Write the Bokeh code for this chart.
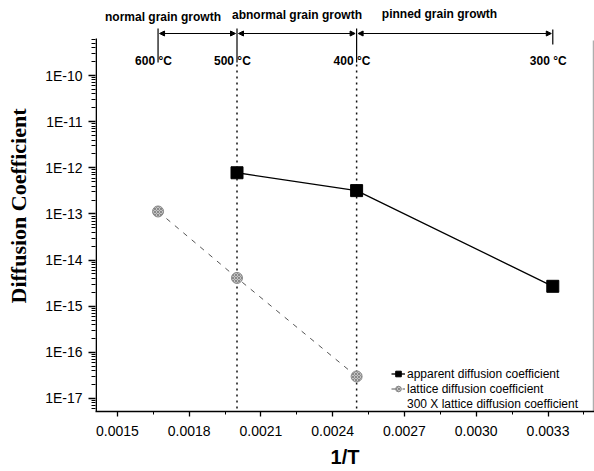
from bokeh.plotting import figure
from bokeh.models import (Range1d, FixedTicker, Legend, LegendItem, Arrow, NormalHead,
                          CustomJSTickFormatter)
from bokeh.core.properties import value
from bokeh.embed import file_html
from bokeh.resources import INLINE

# ---- data ----
app_x = [0.0020, 0.0025, 0.00332]
app_y = [7.8e-13, 3.2e-13, 2.7e-15]
lat_x = [0.00167, 0.0020, 0.0025]
lat_y = [1.13e-13, 4.1e-15, 3.0e-17]
temp_x = [0.00167, 0.0020, 0.0025, 0.00332]
temp_labels = ["600 °C", "500 °C", "400 °C", "300 °C"]
regions = ["normal grain growth", "abnormal grain growth", "pinned grain growth"]
x_ticks = [0.0015, 0.0018, 0.0021, 0.0024, 0.0027, 0.0030, 0.0033]
y_ticks = [1e-17, 1e-16, 1e-15, 1e-14, 1e-13, 1e-12, 1e-11, 1e-10]

# ---- helpers for header placement (pixel row -> log value) ----
def py(ypx):
    return 10 ** (-10 + (75 - ypx) / 46.14)

PX = 4.18e-6          # data units per pixel along x
X0 = 0.002 - 141.5 * PX
X1 = 0.002 + 357.5 * PX
Y0 = py(411)
Y1 = py(0)

def pxx(xpx):
    return 0.002 + (xpx - 236.5) * PX

p = figure(width=594, height=471, y_axis_type="log",
           x_range=Range1d(X0, X1), y_range=Range1d(Y0, Y1),
           output_backend="svg", toolbar_location=None,
           min_border_left=95, min_border_right=0, min_border_top=0, min_border_bottom=60)
p.outline_line_color = None
p.grid.visible = False
p.background_fill_color = "white"

FONT = "Liberation Sans"

# x axis
xa = p.xaxis[0]
minor_x = [t + 0.00015 for t in x_ticks]
xa.ticker = FixedTicker(ticks=x_ticks, minor_ticks=minor_x)
xa.formatter = CustomJSTickFormatter(code="return tick.toFixed(4);")
xa.axis_label = "1/T"
xa.axis_label_text_font = FONT
xa.axis_label_text_font_style = "bold"
xa.axis_label_text_font_size = "20px"
xa.axis_label_text_color = "black"
xa.axis_label_standoff = 7
xa.major_label_text_font = FONT
xa.major_label_text_font_size = "14px"
xa.major_label_text_color = "black"
xa.major_label_standoff = 9
xa.major_tick_out = 5
xa.major_tick_in = 0
xa.minor_tick_out = 3
xa.minor_tick_in = 0
xa.axis_line_width = 1.6
xa.major_tick_line_width = 1.3

# y axis
ya = p.yaxis[0]
minor_y = []
for k in range(-18, -9):
    for m in range(2, 10):
        v = m * 10.0 ** k
        if Y0 < v < 6.5e-10:
            minor_y.append(v)
ya.ticker = FixedTicker(ticks=y_ticks, minor_ticks=minor_y)
ya.formatter = CustomJSTickFormatter(code="return '1E' + Math.round(Math.log10(tick));")
ya.axis_label = "Diffusion Coefficient"
ya.axis_label_text_font = "Liberation Serif"
ya.axis_label_text_font_style = "bold"
ya.axis_label_text_font_size = "22px"
ya.axis_label_text_color = "black"
ya.axis_label_standoff = 11
ya.major_label_text_font = FONT
ya.major_label_text_font_size = "14px"
ya.major_label_text_color = "black"
ya.major_label_standoff = 6
ya.major_tick_out = 7
ya.major_tick_in = 0
ya.minor_tick_out = 4
ya.minor_tick_in = 0
ya.axis_line_color = None
ya.major_tick_line_width = 1.3

# manual left axis line (stops below the header)
p.segment(x0=[X0 + 0.7 * PX], y0=[Y0], x1=[X0 + 0.7 * PX], y1=[py(38)],
          line_color="black", line_width=1.6)
# faint right frame edge
p.segment(x0=[X1 - 1.2 * PX], y0=[Y0], x1=[X1 - 1.2 * PX], y1=[py(40)],
          line_color="#9a9a9a", line_width=1)

# vertical dotted boundaries at 500 and 400 C
p.segment(x0=temp_x[1:3], y0=[py(64)] * 2, x1=temp_x[1:3], y1=[Y0] * 2,
          line_color="#111111", line_width=1.5, line_dash="2 4")

# header ticks
p.segment(x0=temp_x[:3], y0=[py(28)] * 3, x1=temp_x[:3], y1=[py(62)] * 3,
          line_color="black", line_width=1.2)
p.segment(x0=[temp_x[3]], y0=[py(29)], x1=[temp_x[3]], y1=[py(44)],
          line_color="black", line_width=1.2)

# header arrows
for a, b in zip(temp_x[:-1], temp_x[1:]):
    p.add_layout(Arrow(start=NormalHead(size=5, fill_color="black", line_color="black"),
                       end=NormalHead(size=5, fill_color="black", line_color="black"),
                       x_start=a + 1.5 * PX, y_start=py(33), x_end=b - 1.5 * PX, y_end=py(33),
                       line_color="black", line_width=1))

# region labels
region_px = [162.5, 296.5, 439.0]
region_py = [16, 14, 13]
p.text(x=[pxx(rx) for rx in region_px], y=[py(r) for r in region_py],
       text=regions, text_font=value(FONT), text_font_style="bold", text_font_size="12px",
       text_align="center", text_baseline="middle", text_color="black")

# temperature labels
p.text(x=[t - 23 * PX for t in temp_x], y=[py(60)] * 4, text=temp_labels,
       text_font=value(FONT), text_font_style="bold", text_font_size="12px",
       text_align="left", text_baseline="middle", text_color="black")

# series
r_app_l = p.line(app_x, app_y, line_color="black", line_width=1.3)
r_app_p = p.scatter(app_x, app_y, marker="square", size=12, fill_color="black", line_color="black")
r_lat_l = p.line(lat_x, lat_y, line_color="#555555", line_width=1, line_dash="5 6")
r_lat_p = p.scatter(lat_x, lat_y, marker="circle", size=11, fill_color="#c4c4c4",
                    line_color="#8a8a8a", line_width=1,
                    hatch_pattern="x", hatch_color="#7a7a7a", hatch_scale=3, hatch_weight=0.8)
r_blank = p.scatter([], [], marker="circle", size=1, fill_alpha=0, line_alpha=0)

legend = Legend(items=[
    LegendItem(label="apparent diffusion coefficient", renderers=[r_app_l, r_app_p]),
    LegendItem(label="lattice diffusion coefficient", renderers=[r_lat_l, r_lat_p]),
    LegendItem(label="300 X lattice diffusion coefficient", renderers=[r_blank]),
], location=(296, 0))
legend.label_text_font = FONT
legend.label_text_font_size = "12px"
legend.label_text_color = "black"
legend.label_height = 15
legend.glyph_height = 15
legend.glyph_width = 14
legend.label_standoff = 2
legend.spacing = 0
legend.padding = 0
legend.margin = 0
legend.border_line_color = None
legend.background_fill_alpha = 0
p.add_layout(legend)

open("out.html", "w").write(file_html(p, INLINE))
